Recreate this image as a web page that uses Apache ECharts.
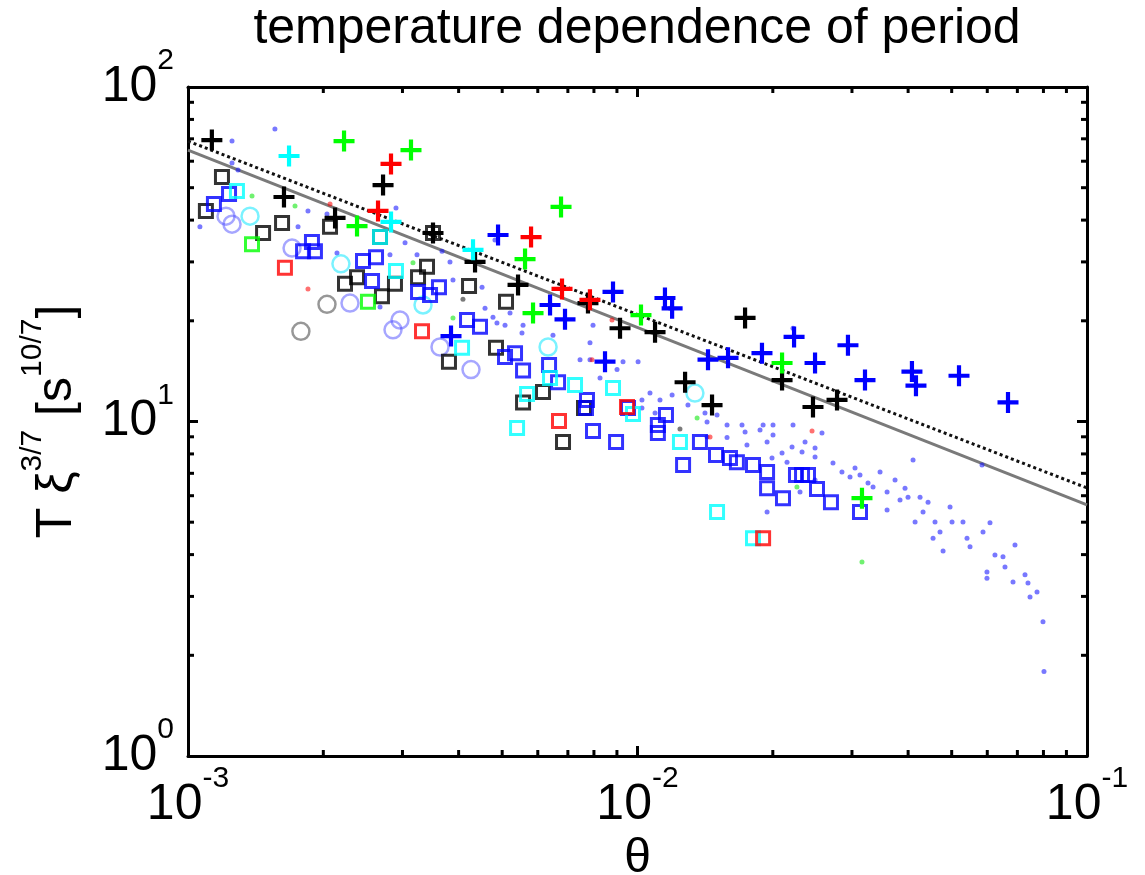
<!DOCTYPE html>
<html><head><meta charset="utf-8">
<script src="https://cdn.jsdelivr.net/npm/echarts@6/dist/echarts.min.js"></script>
<style>html,body{margin:0;padding:0;background:#fff;}#c{width:1145px;height:875px;}</style>
</head><body><div id="c"></div>
<script>
const titleText = 'temperature dependence of period';
const xName = 'θ';
const xTickValues = [0.001, 0.01, 0.1];
const xTickExps = ['-3', '-2', '-1'];
const yTickValues = [1, 10, 100];
const yTickExps = ['0', '1', '2'];
const xMinorTicks = [0.002,0.003,0.004,0.005,0.006,0.007,0.008,0.009,0.02,0.03,0.04,0.05,0.06,0.07,0.08,0.09];
const yMinorTicks = [2,3,4,5,6,7,8,9,20,30,40,50,60,70,80,90];

const lineUpper = [[0.001,68.9],[0.1,6.33]];
const lineLower = [[0.001,64.8],[0.1,5.63]];

const blackPlus = [[0.00113,69.4],[0.001635,46.9],[0.002716,50.9],[0.002124,40.6],[0.003508,36.6],[0.004351,30.0],[0.005423,25.6],[0.007759,22.6],[0.009144,19.0],[0.01094,18.5],[0.01735,20.4],[0.01276,13.1],[0.01465,11.2],[0.02097,13.3],[0.02457,11.05],[0.02779,11.6]];
const greenPlus = [[0.002224,68.9],[0.003134,64.8],[0.002377,38.4],[0.006759,43.8],[0.005621,30.6],[0.005856,21.1],[0.01018,20.8],[0.02097,14.96],[0.03158,5.90]];
const redPlus = [[0.002829,58.9],[0.002647,42.6],[0.005797,35.6],[0.006793,24.9],[0.007838,23.1]];
const cyanPlus = [[0.001678,62.2],[0.002829,39.5],[0.004306,32.6]];
const bluePlus = [[0.004895,36.1],[0.008821,24.4],[0.01151,23.4],[0.01194,21.8],[0.006389,22.3],[0.006898,20.2],[0.008467,15.1],[0.01435,15.3],[0.0159,15.5],[0.01892,16.0],[0.0223,17.9],[0.02939,16.9],[0.02483,14.96],[0.03207,13.3],[0.04079,14.1],[0.04164,12.8],[0.05191,13.7],[0.06672,11.4],[0.003847,18.0]];

const blackSquares = [[0.00119,53.8],[0.001096,42.6],[0.001619,39.2],[0.001469,36.6],[0.00207,38.2],[0.002674,35.6],[0.003508,36.6],[0.003402,29.0],[0.003249,27.0],[0.002377,27.0],[0.002235,25.8],[0.002887,25.8],[0.002701,23.7],[0.004219,25.4],[0.005099,22.8],[0.004844,16.6],[0.003807,15.1],[0.006163,12.25],[0.005564,11.4],[0.006828,8.69],[0.007603,10.97]];
const blueSquares = [[0.001234,47.9],[0.001142,44.7],[0.001887,34.4],[0.001803,32.3],[0.001916,32.3],[0.002451,30.2],[0.00262,31.0],[0.002567,26.3],[0.003249,24.4],[0.003455,23.9],[0.003617,25.2],[0.004176,20.1],[0.004463,19.2],[0.005073,15.6],[0.00534,16.0],[0.005564,14.2],[0.006357,14.75],[0.006657,13.1],[0.00772,11.6],[0.007681,10.97],[0.007962,9.37],[0.00896,8.69],[0.009526,10.97],[0.01157,10.45],[0.0111,9.76],[0.0111,9.24],[0.01263,7.41],[0.01377,8.69],[0.01495,7.94],[0.01606,7.78],[0.01664,7.56],[0.01807,7.41],[0.01942,7.06],[0.01942,6.32],[0.02107,5.90],[0.02252,6.92],[0.02323,6.92],[0.02395,6.92],[0.02508,6.28],[0.02694,5.74],[0.03126,5.36]];
const cyanSquares = [[0.001285,48.9],[0.002674,35.6],[0.002902,28.2],[0.004071,16.6],[0.006389,13.5],[0.007261,12.85],[0.005679,12.08],[0.008821,12.59],[0.009772,10.53],[0.005396,9.56],[0.01243,8.69],[0.01503,5.36],[0.01807,4.48]];
const redSquares = [[0.001643,28.8],[0.003316,18.6],[0.006689,10.03],[0.009476,11.05],[0.01903,4.48]];
const greenSquares = [[0.001388,33.9],[0.002514,22.8]];

const grayCircles = [[0.002038,22.4],[0.001783,18.6]];
const blueCircles = [[0.001215,41.1],[0.001253,38.9],[0.001704,33.0],[0.002293,22.6],[0.002962,20.1],[0.002858,18.8],[0.003636,16.7],[0.004262,14.3]];
const cyanCircles = [[0.001374,41.1],[0.002189,29.6],[0.003333,22.3],[0.006325,16.7],[0.01342,12.16]];

const blueDots = [[0.001561,74.9],[0.001253,68.9],[0.001253,59.3],[0.001292,56.5],[0.001849,42.6],[0.001757,38.2],[0.002038,41.7],[0.002145,31.9],[0.002814,31.5],[0.00304,34.2],[0.003232,31.5],[0.003674,32.3],[0.003827,30.0],[0.003886,26.5],[0.00451,25.2],[0.004819,34.9],[0.001063,38.2],[0.002902,43.5],[0.002674,22.0],[0.004579,21.8],[0.00477,20.5],[0.004868,19.7],[0.005205,21.1],
[0.005073,19.4],[0.005564,19.4],[0.007962,19.4],[0.005534,18.4],[0.006486,18.1],[0.00784,17.2],[0.007449,15.3],[0.00784,15.3],[0.009285,15.1],[0.01003,15.1],[0.009005,14.3],[0.008253,13.5],[0.01066,12.16],[0.01122,11.6],[0.01194,12.0],[0.01023,11.6],[0.01295,11.2],[0.01023,10.97],[0.01094,10.6],[0.01413,10.6],[0.01503,10.45],[0.01428,9.97],[0.01582,9.76],[0.01708,9.76],[0.01735,9.30],[0.01873,9.43],[0.01903,9.76],[0.02002,9.76],[0.02002,9.11],[0.02218,9.76],[0.01942,8.69],[0.01752,8.51],[0.01582,8.96],[0.02207,8.39],[0.02323,8.11],[0.02097,8.05],[0.01992,7.78],[0.02151,7.56],[0.02483,8.33],[0.02483,6.69],[0.02299,6.15],[0.01942,5.36],[0.01428,8.99],[0.02218,19.0],[0.01181,21.8],
[0.02573,9.24],[0.02359,8.69],[0.02483,7.83],[0.02722,7.51],[0.0285,7.06],[0.0297,6.83],[0.03047,7.26],[0.03126,6.92],[0.03464,7.06],[0.03257,6.55],[0.03342,6.37],[0.03741,6.69],[0.03591,6.15],[0.03937,6.32],[0.03998,5.94],[0.03837,5.83],[0.04252,5.94],[0.0443,5.74],[0.04102,7.67],[0.0584,7.41],[0.03591,5.44],[0.04318,5.36],[0.04958,5.55],[0.04145,5.01],[0.04591,5.01],[0.05009,5.01],[0.05298,5.01],[0.0471,4.67],[0.04545,4.48],[0.05408,4.48],[0.0587,4.67],[0.06084,4.98],[0.06915,4.27],[0.05492,4.22],[0.04784,4.10],[0.06241,3.99],[0.06503,3.94],[0.0657,3.67],[0.07279,3.48],[0.06845,3.31],[0.0599,3.55],[0.0599,3.40],[0.07391,3.29],[0.07468,2.99],[0.07741,3.09],[0.07982,2.52],[0.08023,1.79]];
const redDots = [[0.00207,44.7],[0.001849,24.9],[0.007922,15.3],[0.008776,20.1],[0.0145,8.99],[0.02445,9.37]];
const greenDots = [[0.001388,47.2],[0.00173,44.1],[0.003166,29.8],[0.01357,10.24],[0.02263,6.37],[0.03158,3.80],[0.003886,20.4]];
const blackDots = [[0.00409,23.2],[0.01243,9.50]];

const narrow = '"Liberation Sans Narrow", "Arial Narrow", "Liberation Sans", sans-serif';
const regular = '"Liberation Sans", Arial, sans-serif';
const plusPath = 'path://M40,0H60V40H100V60H60V100H40V60H0V40H40Z';

function expFor(v, vals, exps) {
  let best = 0, bd = Infinity;
  vals.forEach((t, i) => { const d = Math.abs(Math.log10(v) - Math.log10(t)); if (d < bd) { bd = d; best = i; } });
  return exps[best];
}
const tickRich = {
  b: { fontFamily: narrow, fontSize: 50, color: '#000', padding: [16, 0, 16, 0] },
  s: { fontFamily: regular, fontSize: 30, color: '#000', verticalAlign: 'top' }
};

function scatter(data, symbol, size, style, z) {
  return { type: 'scatter', data: data, symbol: symbol, symbolSize: size, itemStyle: style, z: z, silent: true, animation: false };
}
function plusSeries(data, color) {
  return scatter(data, plusPath, 21, { color: color, opacity: 1 }, 8);
}
function squareSeries(data, color) {
  return scatter(data, 'rect', 13, { color: 'rgba(0,0,0,0)', borderColor: color, borderWidth: 3 }, 6);
}
function circleSeries(data, color) {
  return scatter(data, 'circle', 17, { color: 'rgba(0,0,0,0)', borderColor: color, borderWidth: 2.5 }, 5);
}
function dotSeries(data, color) {
  return scatter(data, 'circle', 5, { color: color }, 4);
}

const minorX = {
  type: 'custom', coordinateSystem: 'cartesian2d', clip: false, silent: true, z: 20,
  data: xMinorTicks.map(v => [v, 1]),
  renderItem: function (params, api) {
    const v = api.value(0);
    const b = api.coord([v, 1]), t = api.coord([v, 100]);
    return { type: 'group', children: [
      { type: 'line', shape: { x1: b[0], y1: b[1], x2: b[0], y2: b[1] - 6 }, style: { stroke: '#000', lineWidth: 3 } },
      { type: 'line', shape: { x1: t[0], y1: t[1], x2: t[0], y2: t[1] + 6 }, style: { stroke: '#000', lineWidth: 3 } }
    ] };
  }
};
const minorY = {
  type: 'custom', coordinateSystem: 'cartesian2d', clip: false, silent: true, z: 20,
  data: yMinorTicks.map(v => [0.001, v]),
  renderItem: function (params, api) {
    const v = api.value(1);
    const l = api.coord([0.001, v]), r = api.coord([0.1, v]);
    return { type: 'group', children: [
      { type: 'line', shape: { x1: l[0], y1: l[1], x2: l[0] + 6, y2: l[1] }, style: { stroke: '#000', lineWidth: 3 } },
      { type: 'line', shape: { x1: r[0], y1: r[1], x2: r[0] - 6, y2: r[1] }, style: { stroke: '#000', lineWidth: 3 } }
    ] };
  }
};

const axisCommon = {
  type: 'log', logBase: 10,
  axisLine: { show: true, onZero: false, lineStyle: { color: '#000', width: 3 } },
  axisTick: { show: true, inside: true, length: 10, lineStyle: { color: '#000', width: 3 } },
  splitLine: { show: false },
  minorTick: { show: false }
};

const chart = echarts.init(document.getElementById('c'), null, { renderer: 'canvas' });
chart.setOption({
  animation: false,
  backgroundColor: '#fff',
  grid: { left: 188, right: 58, top: 87, bottom: 119, containLabel: false, outerBoundsMode: 'none' },
  graphic: [{
    type: 'text', x: 637, y: 4,
    style: { text: titleText, fontFamily: regular, fontSize: 50, fill: '#000', textAlign: 'center', textVerticalAlign: 'top' }
  }],
  xAxis: [
    Object.assign({}, axisCommon, {
      min: 0.001, max: 0.1, position: 'bottom',
      name: xName, nameLocation: 'middle', nameGap: 74,
      nameTextStyle: { fontFamily: regular, fontSize: 48, color: '#000' },
      axisLabel: {
        margin: 8,
        formatter: v => '{b|10}{s|' + expFor(v, xTickValues, xTickExps) + '}',
        rich: tickRich
      }
    }),
    Object.assign({}, axisCommon, { min: 0.001, max: 0.1, position: 'top', axisLabel: { show: false } })
  ],
  yAxis: [
    Object.assign({}, axisCommon, {
      min: 1, max: 100, position: 'left',
      name: '{m|T ξ}{s|3/7}{m| [s}{s|10/7}{m|]}',
      nameLocation: 'middle', nameRotate: 90, nameGap: 92,
      nameTextStyle: {
        fontFamily: regular, fontSize: 50, color: '#000',
        rich: {
          m: { fontFamily: regular, fontSize: 50, color: '#000', padding: [14, 0, 14, 0] },
          s: { fontFamily: regular, fontSize: 30, color: '#000', verticalAlign: 'top' }
        }
      },
      axisLabel: {
        margin: 14,
        formatter: v => '{b|10}{s|' + expFor(v, yTickValues, yTickExps) + '}',
        rich: tickRich
      }
    }),
    Object.assign({}, axisCommon, { min: 1, max: 100, position: 'right', axisLabel: { show: false } })
  ],
  series: [
    { type: 'line', data: lineLower, showSymbol: false, symbol: 'none', silent: true, z: 2,
      lineStyle: { color: '#7a7a7a', width: 3, type: 'solid' } },
    { type: 'line', data: lineUpper, showSymbol: false, symbol: 'none', silent: true, z: 2,
      lineStyle: { color: '#111', width: 3, type: [3, 3] } },
    dotSeries(blueDots, 'rgba(20,20,255,0.72)'),
    dotSeries(redDots, 'rgba(255,0,0,0.7)'),
    dotSeries(greenDots, 'rgba(0,230,0,0.7)'),
    dotSeries(blackDots, 'rgba(0,0,0,0.65)'),
    circleSeries(grayCircles, 'rgba(70,70,70,0.7)'),
    circleSeries(blueCircles, 'rgba(70,70,255,0.6)'),
    circleSeries(cyanCircles, 'rgba(0,230,255,0.65)'),
    squareSeries(blackSquares, '#000'),
    squareSeries(blueSquares, '#0000ff'),
    squareSeries(cyanSquares, '#00ffff'),
    squareSeries(redSquares, '#ff0000'),
    squareSeries(greenSquares, '#00ff00'),
    plusSeries(blackPlus, '#000'),
    plusSeries(greenPlus, '#00ff00'),
    plusSeries(redPlus, '#ff0000'),
    plusSeries(cyanPlus, '#00ffff'),
    plusSeries(bluePlus, '#0000ff'),
    minorX, minorY
  ]
});
</script>
</body></html>
